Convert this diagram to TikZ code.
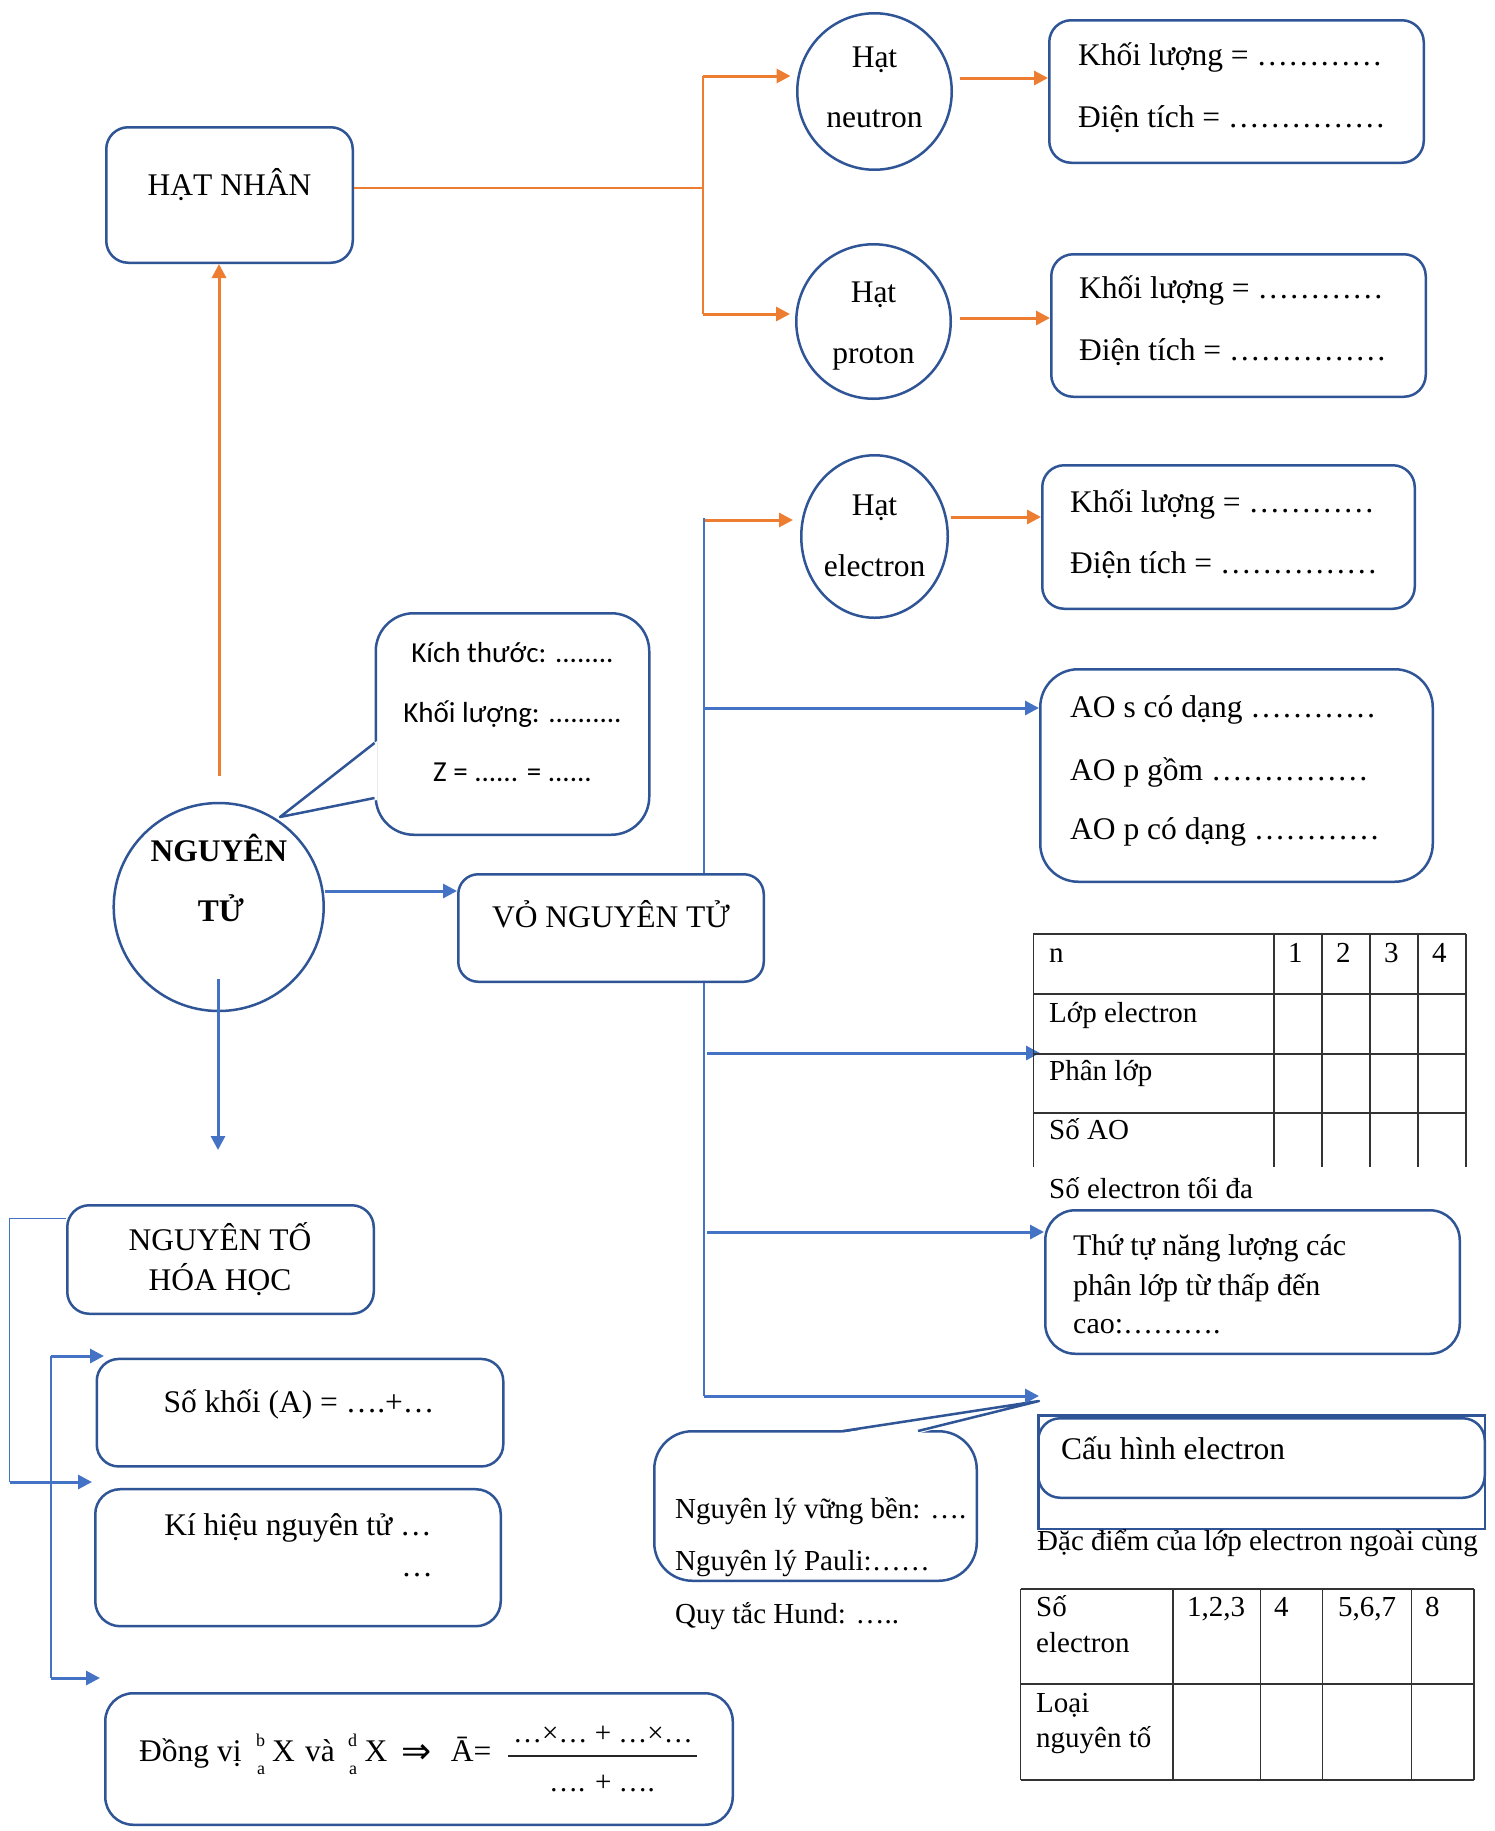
\documentclass[tikz,border=0pt]{standalone}
\usepackage{fontspec}
\setmainfont{Liberation Serif}
\newfontfamily\calib{Carlito}
\newfontfamily\djv{DejaVu Sans}
\usetikzlibrary{shapes.geometric,arrows.meta}
\definecolor{bd}{HTML}{2F5597}
\definecolor{ar}{HTML}{4472C4}
\definecolor{og}{HTML}{ED7D31}
\newcommand\fT{\fontsize{31.5}{38}\selectfont}
\newcommand\fS{\fontsize{29}{35}\selectfont}
\newcommand\fM{\fontsize{30}{36}\selectfont}
\newcommand\fC{\calib\fontsize{29}{35}\selectfont}
\newcommand\fX{\fontsize{18}{20}\selectfont}
\begin{document}
\begin{tikzpicture}[x=1pt,y=-1pt,
  box/.style={draw=bd,line width=2.5pt,rounded corners=22pt,inner sep=0pt},
  oval/.style={ellipse,draw=bd,line width=2.5pt,inner sep=0pt},
  tx/.style={anchor=base west,inner sep=0pt,font=\fT},
  tc/.style={anchor=base,inner sep=0pt,font=\fT},
  sx/.style={anchor=base west,inner sep=0pt,font=\fS},
  cc/.style={anchor=base,inner sep=0pt,font=\fC},
  oarr/.style={draw=og,line width=3pt,-{Triangle[length=14pt,width=14pt]}},
  barr/.style={draw=ar,line width=3pt,-{Triangle[length=14pt,width=14pt]}},
  oline/.style={draw=og,line width=1.5pt},
  bline/.style={draw=ar,line width=1.5pt},
  grid/.style={draw=black!80,line width=1.5pt},
]
\path[fill=white,use as bounding box] (0,0) rectangle (1495,1831);

% ---------- boxes ----------
\node[box,minimum width=246.5pt,minimum height=135.5pt] (hn) at (229.5,195) {};
\node[box,minimum width=374.5pt,minimum height=142.5pt] (nbox) at (1236.5,91.5) {};
\node[box,minimum width=374.5pt,minimum height=142.5pt] (pbox) at (1238.5,325.5) {};
\node[box,minimum width=372.5pt,minimum height=143.5pt] (ebox) at (1228.5,537) {};
\node[box,rounded corners=38pt,minimum width=392.5pt,minimum height=212.5pt] (ao) at (1236.5,775.5) {};
\node[box,rounded corners=38pt,fill=white,minimum width=273.5pt,minimum height=221.5pt] (co1) at (512.5,724) {};
\node[box,rounded corners=20pt,minimum width=305.5pt,minimum height=107.5pt] (vo) at (611,928) {};
\node[box,rounded corners=30pt,minimum width=414.5pt,minimum height=143.5pt] (tt) at (1252.5,1282) {};
\node[box,rounded corners=38pt,fill=white,minimum width=322.5pt,minimum height=149.5pt] (co2) at (815.5,1506) {};
\node[draw=bd,line width=2.5pt,inner sep=0pt,minimum width=446.5pt,minimum height=113.5pt] (chr) at (1261.5,1472) {};
\node[box,minimum width=446.5pt,minimum height=79.5pt] (chb) at (1261.5,1458) {};
\node[box,minimum width=306.5pt,minimum height=108.5pt] (ntb) at (220.5,1259.5) {};
\node[box,minimum width=406.5pt,minimum height=107.5pt] (skb) at (300,1412.7) {};
\node[box,rounded corners=25pt,minimum width=405.5pt,minimum height=137pt] (khb) at (298,1557.7) {};
\node[box,rounded corners=28pt,minimum width=627.5pt,minimum height=131.5pt] (dvb) at (419,1759) {};

% ---------- ellipses ----------
\node[oval,minimum width=154.5pt,minimum height=156.5pt] (neu) at (874.5,91.5) {};
\node[oval,minimum width=154.5pt,minimum height=154.5pt] (pro) at (873.5,321.5) {};
\node[oval,minimum width=146.5pt,minimum height=162.5pt] (ele) at (874.5,536.5) {};
\node[oval,minimum width=210pt,minimum height=208pt] (nt) at (218.7,907) {};

% ---------- callout tails ----------
\fill[white] (377,741) -- (280,817) -- (377,800) -- cycle;
\draw[bd,line width=2.5pt,line join=round] (374.5,743) -- (280,817) -- (374.5,798);
\fill[white] (841,1433) -- (1039,1401) -- (920,1433) -- cycle;
\draw[bd,line width=2.5pt,line join=round] (843,1431) -- (1039,1401) -- (918,1431);

% ---------- orange connectors ----------
\coordinate (j1t) at (703,76);
\coordinate (j1m) at (703,188);
\coordinate (j1b) at (703,314);
\draw[oline] (hn.east |- j1m) -- (j1m);
\draw[oline] (j1t) -- (j1b);
\draw[oarr,shorten >=5.5pt] (j1t) -- (neu.west |- j1t);
\draw[oarr,shorten >=5pt] (j1b) -- (pro.west |- j1b);
\coordinate (n1) at (959.5,78);
\draw[oarr] (n1) -- (nbox.west |- n1);
\coordinate (p1) at (959.5,318);
\draw[oarr] (p1) -- (pbox.west |- p1);
\coordinate (nt1) at (219,776);
\draw[oarr] (nt1) -- (nt1 |- hn.south);
\coordinate (e0) at (704,520);
\draw[oarr,shorten >=7pt] (e0) -- (ele.west |- e0);
\coordinate (e1) at (951,517);
\draw[oarr] (e1) -- (ebox.west |- e1);

% ---------- blue connectors ----------
\coordinate (c1) at (325,891);
\draw[barr] (c1) -- (vo.west |- c1);
\coordinate (c2) at (218,979);
\coordinate (c3) at (218,1150);
\draw[barr] (c2) -- (c3);
\coordinate (v1) at (704,518);
\coordinate (v2) at (704,1396);
\draw[bline] (v1) -- (v1 |- vo.north);
\draw[bline] (v1 |- vo.south) -- (v2);
\coordinate (b1) at (704,708);
\draw[barr] (b1) -- (ao.west |- b1);
\coordinate (b2) at (707,1053);
\coordinate (tb) at (1040,1053);
\draw[barr] (b2) -- (tb);
\coordinate (b3) at (707,1232);
\draw[barr] (b3) -- (tt.west |- b3);
\coordinate (b4) at (1039,1396);
\draw[barr] (v2) -- (b4);

\coordinate (l1) at (9.6,1218.6);
\coordinate (l2) at (9.6,1482);
\coordinate (l2e) at (92,1482);
\draw[bline] (ntb.west |- l1) -- (l1) -- (l2);
\draw[barr] (l2) -- (l2e);
\coordinate (m1) at (51,1356);
\coordinate (m2) at (51,1678);
\coordinate (m1e) at (104,1356);
\coordinate (m2e) at (100,1678);
\draw[bline] (m1) -- (m2);
\draw[barr] (m1) -- (m1e);
\draw[barr] (m2) -- (m2e);

% ---------- tables ----------
\foreach \y in {934,994,1054,1113} \draw[grid] (1033.4,\y) -- (1466,\y);
\foreach \x in {1033.4,1274,1322,1370,1418,1466} \draw[grid] (\x,934) -- (\x,1167);
\foreach \y in {1589,1684,1780} \draw[grid] (1020.6,\y) -- (1474,\y);
\foreach \x in {1020.6,1173,1260.5,1322.7,1411.5,1474} \draw[grid] (\x,1589) -- (\x,1780);

% ---------- texts ----------
\node[tc] (thn) at (229.5,195) {HẠT NHÂN};
\node[tc] (tn1) at (874.5,67) {Hạt};
\node[tc] (tn2) at (874.5,127) {neutron};
\node[tc] (tp1) at (873.5,302) {Hạt};
\node[tc] (tp2) at (873.5,363) {proton};
\node[tc] (te1) at (874.5,515) {Hạt};
\node[tc] (te2) at (874.5,576) {electron};
\node[tx] (tnb1) at (1078,65) {Khối lượng = …………};
\node[tx] (tnb2) at (1078,127) {Điện tích = ……………};
\node[tx] (tpb1) at (1079,298) {Khối lượng = …………};
\node[tx] (tpb2) at (1079,360) {Điện tích = ……………};
\node[tx] (teb1) at (1070,512) {Khối lượng = …………};
\node[tx] (teb2) at (1070,573) {Điện tích = ……………};
\node[tx] (tao1) at (1070,717) {AO s có dạng …………};
\node[tx] (tao2) at (1070,780) {AO p gồm ……………};
\node[tx] (tao3) at (1070,839) {AO p có dạng …………};
\node[cc] (tc1) at (512.5,662) {Kích thước: ........};
\node[cc] (tc2) at (512.5,722) {Khối lượng: ..........};
\node[cc] (tc3) at (512.5,781) {Z = ...... = ......};
\node[tc,font=\fT\bfseries] (tnt1) at (219,861) {NGUYÊN};
\node[tc,font=\fT\bfseries] (tnt2) at (221,921) {TỬ};
\node[tc] (tvo) at (611,927.6) {VỎ NGUYÊN TỬ};

\node[sx] (tt1) at (1049,962) {n};
\node[sx] (tt2) at (1049,1022) {Lớp electron};
\node[sx] (tt3) at (1049,1080) {Phân lớp};
\node[sx] (tt4) at (1049,1139) {Số AO};
\node[sx] (tt5) at (1049,1198) {Số electron tối đa};
\node[sx] (tn1c) at (1288,962) {1};
\node[sx] (tn2c) at (1336,962) {2};
\node[sx] (tn3c) at (1384,962) {3};
\node[sx] (tn4c) at (1432,962) {4};

\node[tx,font=\fM] (ttt1) at (1073,1255) {Thứ tự năng lượng các};
\node[tx,font=\fM] (ttt2) at (1073,1295) {phân lớp từ thấp đến};
\node[tx,font=\fM] (ttt3) at (1073,1333) {cao:……….};

\node[sx] (tq1) at (675,1518) {Nguyên lý vững bền: ….};
\node[sx] (tq2) at (675,1570) {Nguyên lý Pauli:……};
\node[sx] (tq3) at (675,1623) {Quy tắc Hund: …..};
\node[tx] (tch) at (1061,1459) {Cấu hình electron};
\node[sx] (tdd) at (1037,1550) {Đặc điểm của lớp electron ngoài cùng};

\node[sx] (tu1) at (1036,1616) {Số};
\node[sx] (tu2) at (1036,1652) {electron};
\node[sx] (tu3) at (1187,1616) {1,2,3};
\node[sx] (tu4) at (1274,1616) {4};
\node[sx] (tu5) at (1338,1616) {5,6,7};
\node[sx] (tu6) at (1425,1616) {8};
\node[sx] (tu7) at (1036,1712) {Loại};
\node[sx] (tu8) at (1036,1747) {nguyên tố};

\node[tc] (tnt3) at (220,1250.6) {NGUYÊN TỐ};
\node[tc] (tnt4) at (220,1290) {HÓA HỌC};
\node[tc] (tsk) at (299,1412.5) {Số khối (A) = ….+…};
\node[tc] (tkh1) at (298,1535) {Kí hiệu nguyên tử …};
\node[anchor=base east,inner sep=0pt,font=\fT] (tkh2) at (433,1576) {…};

\node[tx] (tdv) at (139,1761) {Đồng vị};
\node[anchor=base west,inner sep=0pt,font=\fX] (sb1) at (256,1746) {b};
\node[anchor=base west,inner sep=0pt,font=\fX] (sa1) at (257,1774) {a};
\node[tx] (tx1) at (272,1761) {X};
\node[tx] (tva) at (305,1761) {và};
\node[anchor=base west,inner sep=0pt,font=\fX] (sd2) at (348,1746) {d};
\node[anchor=base west,inner sep=0pt,font=\fX] (sa2) at (349,1774) {a};
\node[tx] (tx2) at (364.5,1761) {X};
\node[anchor=base west,inner sep=0pt,font=\djv\fontsize{36}{40}\selectfont] (timp) at (401,1763) {⇒};
\node[tx] (tab) at (450.7,1761) {Ā=};
\node[anchor=base,inner sep=0pt,font=\fS] (tnum) at (603,1742) {…×… + …×…};
\node[anchor=base,inner sep=0pt,font=\fS] (tden) at (602,1791) {…. + ….};
\draw[black!85,line width=1.5pt] (508,1756) -- (697,1756);
\end{tikzpicture}
\end{document}
